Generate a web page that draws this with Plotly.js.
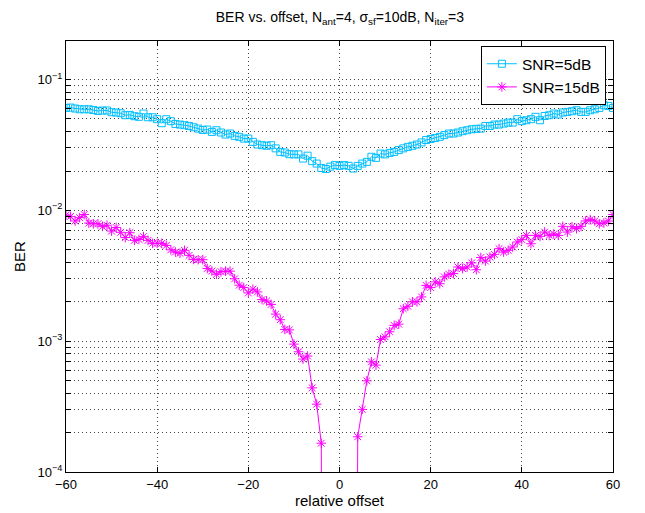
<!DOCTYPE html>
<html>
<head>
<meta charset="utf-8">
<script src="https://cdn.plot.ly/plotly-3.0.1.min.js"></script>
<style>html,body{margin:0;padding:0;background:#fff;}#chart{width:645px;height:513px;}</style>
</head>
<body>
<div id="chart"></div>
<script>
// relative offsets -60..60 (step 1)
const offsets = [];
for (let k = -60; k <= 60; k++) offsets.push(k);

const seriesNames = ["SNR=5dB", "SNR=15dB"];

// BER for SNR = 5 dB
const ber5 = [
  0.0607, 0.0611, 0.0601, 0.0593, 0.0593, 0.0593, 0.0585, 0.0576, 0.0580, 0.0580,
  0.0563, 0.0560, 0.0553, 0.0534, 0.0537, 0.0525, 0.0519, 0.0550, 0.0515, 0.0515,
  0.0498, 0.0464, 0.0498, 0.0481, 0.0458, 0.0453, 0.0448, 0.0442, 0.0432, 0.0422,
  0.0412, 0.0415, 0.0398, 0.0410, 0.0394, 0.0380, 0.0387, 0.0371, 0.0365, 0.0354,
  0.0354, 0.0334, 0.0319, 0.0315, 0.0312, 0.0315, 0.0298, 0.0280, 0.0277, 0.0269,
  0.0268, 0.0268, 0.0249, 0.0262, 0.0238, 0.0228, 0.0211, 0.0207, 0.0216, 0.0222,
  0.0219, 0.0222, 0.0219, 0.0209, 0.0219, 0.0228, 0.0235, 0.0257, 0.0252, 0.0272,
  0.0268, 0.0275, 0.0280, 0.0289, 0.0298, 0.0306, 0.0312, 0.0319, 0.0331, 0.0345,
  0.0351, 0.0358, 0.0365, 0.0376, 0.0387, 0.0387, 0.0394, 0.0403, 0.0410, 0.0417,
  0.0420, 0.0422, 0.0442, 0.0442, 0.0453, 0.0453, 0.0461, 0.0469, 0.0469, 0.0498,
  0.0481, 0.0489, 0.0498, 0.0519, 0.0489, 0.0527, 0.0534, 0.0550, 0.0541, 0.0560,
  0.0566, 0.0573, 0.0583, 0.0566, 0.0566, 0.0583, 0.0593, 0.0607, 0.0636, 0.0629,
  0.0607
];

// BER for SNR = 15 dB (zero errors near zero offset)
const ber15 = [
  0.0092, 0.0090, 0.0083, 0.0088, 0.0093, 0.0080, 0.0079, 0.0079, 0.00755, 0.0077,
  0.00695, 0.0074, 0.0068, 0.0062, 0.00675, 0.0059, 0.0060, 0.0063, 0.0059, 0.0056,
  0.0056, 0.0056, 0.0054, 0.0050, 0.0048, 0.0047, 0.00495, 0.00453, 0.00422, 0.0042,
  0.0042, 0.0036, 0.00344, 0.00325, 0.0034, 0.00343, 0.00343, 0.0030, 0.00268, 0.00257,
  0.00234, 0.0025, 0.00238, 0.00208, 0.00203, 0.00191, 0.00161, 0.00146, 0.00123, 0.00122,
  0.00095, 0.00083, 0.00073, 0.00077, 0.00044, 0.00033, 0.000166, 0, 0, 0,
  0, 0, 0, 0, 0.000186, 0.000301, 0.000498, 0.000695, 0.000656, 0.00103,
  0.00108, 0.00118, 0.00132, 0.00135, 0.00177, 0.00185, 0.0020, 0.0020, 0.00218, 0.00267,
  0.00257, 0.00284, 0.00275, 0.0031, 0.00325, 0.00329, 0.00369, 0.00359, 0.00369, 0.00397,
  0.00352, 0.00436, 0.0041, 0.0044, 0.00461, 0.0051, 0.0048, 0.00495, 0.00525, 0.00573,
  0.00598, 0.00644, 0.00556, 0.00644, 0.00633, 0.00683, 0.00644, 0.0066, 0.00644, 0.00755,
  0.00683, 0.0075, 0.00725, 0.00755, 0.0083, 0.0085, 0.0083, 0.0079, 0.0080, 0.0083,
  0.0093
];

const xTicks = [-60, -40, -20, 0, 20, 40, 60];
const yMajor = [1e-4, 1e-3, 1e-2, 1e-1];
const yMajorLabels = ["10<sup>\u22124</sup>", "10<sup>\u22123</sup>", "10<sup>\u22122</sup>", "10<sup>\u22121</sup>"];

// log(0) = -inf: draw as a tiny floor so the line drops off the axis like MATLAB
const floorZero = v => (v > 0 ? v : 1e-12);

const yTickVals = [], yTickText = [];
for (let e = -4; e <= -1; e++) {
  for (let m = 1; m <= 9; m++) {
    const v = m * Math.pow(10, e);
    if (v > 0.2) break;
    yTickVals.push(v);
    const idx = yMajor.findIndex(t => Math.abs(t - v) / t < 1e-9);
    yTickText.push(idx >= 0 ? yMajorLabels[idx] : "");
  }
}

const traces = [
  {
    x: offsets, y: ber5.map(floorZero), name: seriesNames[0],
    type: "scatter", mode: "lines+markers",
    line: {color: "#00BFFF", width: 1},
    marker: {symbol: "square-open", size: 7, color: "#00BFFF", line: {width: 1}}
  },
  {
    x: offsets, y: ber15.map(floorZero), name: seriesNames[1],
    type: "scatter", mode: "lines+markers",
    line: {color: "#FF00FF", width: 1},
    marker: {symbol: "asterisk-open", size: 8, color: "#FF00FF", line: {width: 1, color: "#FF00FF"}}
  }
];

const font = {family: "Liberation Sans, Arial, Helvetica, sans-serif", color: "#000"};

const layout = {
  width: 645, height: 513,
  paper_bgcolor: "#fff", plot_bgcolor: "#fff",
  margin: {l: 66, r: 32, t: 41, b: 41, pad: 0},
  font: Object.assign({size: 13}, font),
  title: {
    text: "BER vs. offset, N<sub>ant</sub>=4, \u03c3<sub>sf</sub>=10dB, N<sub>iter</sub>=3",
    font: Object.assign({size: 14}, font),
    x: 0.527, xanchor: "center", y: 0.966, yanchor: "middle"
  },
  xaxis: {
    range: [-60, 60], tickvals: xTicks, ticks: "inside", ticklen: 5, tickcolor: "#000",
    showline: true, linecolor: "#000", linewidth: 1, mirror: "ticks",
    showgrid: true, gridcolor: "#444", griddash: "1px,3px", gridwidth: 1,
    zeroline: false, tickfont: Object.assign({size: 13}, font),
    title: {text: "relative offset", font: Object.assign({size: 15}, font), standoff: 4}
  },
  yaxis: {
    type: "log", range: [-4, -0.705],
    tickvals: yTickVals, ticktext: yTickText,
    ticks: "inside", ticklen: 5, tickcolor: "#000",
    showline: true, linecolor: "#000", linewidth: 1, mirror: "ticks",
    showgrid: true, gridcolor: "#444", griddash: "1px,3px", gridwidth: 1,
    zeroline: false, tickfont: Object.assign({size: 13}, font),
    title: {text: "BER", font: Object.assign({size: 15}, font), standoff: 8}
  },
  legend: {
    x: 0.987, xanchor: "right", y: 0.988, yanchor: "top",
    bgcolor: "#fff", bordercolor: "#000", borderwidth: 1,
    font: Object.assign({size: 15.5}, font),
    tracegroupgap: 0, itemwidth: 30
  },
  showlegend: true
};

Plotly.newPlot("chart", traces, layout, {displayModeBar: false, staticPlot: true});
</script>
</body>
</html>
